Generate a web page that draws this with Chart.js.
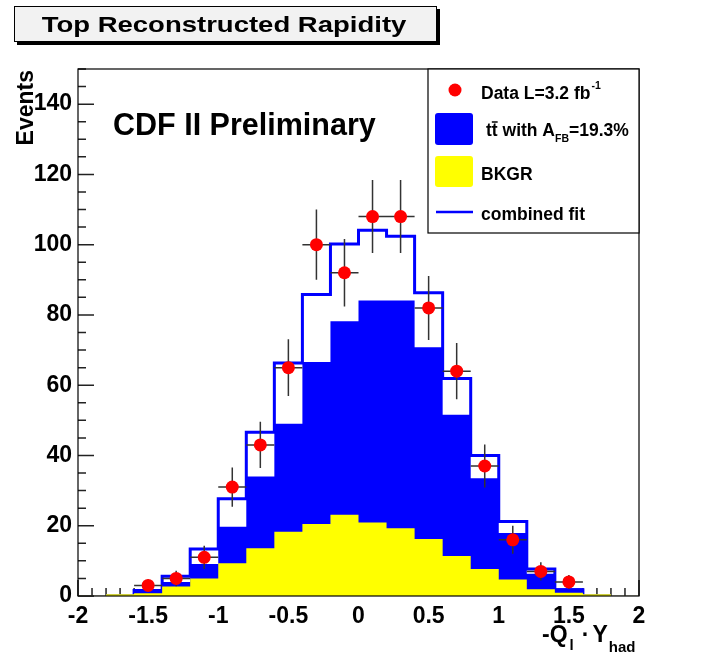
<!DOCTYPE html>
<html lang="en">
<head>
  <meta charset="UTF-8">
  <title>Top Reconstructed Rapidity</title>
  <script src="https://cdn.jsdelivr.net/npm/chart.js"></script>
  <style>
    body { margin: 0; background: #fff; }
  </style>
</head>
<body>
  <canvas id="rapidity" width="705" height="658"></canvas>
  <script>
    // bin centres of -Q_l * Y_had (bin width 0.2)
    const binCenters = [-1.9, -1.7, -1.5, -1.3, -1.1, -0.9, -0.7, -0.5, -0.3, -0.1,
                         0.1,  0.3,  0.5,  0.7,  0.9,  1.1,  1.3,  1.5,  1.7,  1.9];
    const binWidth = 0.2;

    // background (yellow)
    const bkgr = [0.1, 0.5, 0.8, 2.7, 5.0, 9.3, 13.6, 18.3, 20.5, 23.1,
                  20.9, 19.3, 16.2, 11.4, 7.7, 4.7, 1.9, 0.9, 0.5, 0.1];
    // ttbar with A_FB=19.3%, stacked on bkgr (blue fill)
    const ttbarStack = [0.1, 0.5, 1.2, 4.0, 9.1, 19.7, 34.0, 49.0, 66.6, 78.2,
                        84.1, 84.1, 70.8, 51.6, 33.5, 17.9, 6.3, 2.2, 0.5, 0.1];
    // combined fit (blue outline)
    const combinedFit = [null, null, 1.6, 5.6, 13.4, 27.7, 46.6, 66.3, 85.8, 100.2,
                         104.1, 102.4, 86.3, 61.9, 40.0, 21.2, 7.7, 1.8, null, null];
    // data points and their errors
    const dataEvents = [null, null, 3, 5, 11, 31, 43, 65, 100, 92,
                        108, 108, 82, 64, 37, 16, 7, 4, null, null];
    const dataErrors = [null, null, 1.7, 2.2, 3.3, 5.6, 6.6, 8.1, 10, 9.6,
                        10.4, 10.4, 9.1, 8, 6.1, 4, 2.6, 2, null, null];

    const xTicks = [-2, -1.5, -1, -0.5, 0, 0.5, 1, 1.5, 2];
    const yTicks = [0, 20, 40, 60, 80, 100, 120, 140];

    const FONT = "'Liberation Sans', Arial, sans-serif";
    Chart.defaults.font.family = FONT;

    // step outline through bin edges (stepped: 'after' -> vertical first)
    function stepPoints(vals) {
      const pts = [];
      vals.forEach((v, i) => {
        if (v === null) return;
        const lo = binCenters[i] - binWidth / 2;
        const hi = binCenters[i] + binWidth / 2;
        if (!pts.length) pts.push({x: lo, y: 0});
        pts.push({x: hi, y: v});
      });
      pts.push({x: pts[pts.length - 1].x, y: 0});
      return pts;
    }

    const points = [];
    dataEvents.forEach((v, i) => { if (v !== null) points.push({x: binCenters[i], y: v, e: dataErrors[i]}); });

    const rootStyle = {
      id: 'rootStyle',
      beforeDatasetsDraw(chart) {
        // inward ticks, drawn below the histograms
        const {ctx, chartArea: a, scales: {x, y}} = chart;
        ctx.save();
        ctx.strokeStyle = '#222';
        ctx.lineWidth = 1.5;
        ctx.beginPath();
        for (let k = 0; k <= 30; k++) {
          const py = y.getPixelForValue(k * 5);
          const len = k % 4 === 0 ? 16 : 8;
          ctx.moveTo(a.left, py); ctx.lineTo(a.left + len, py);
        }
        for (let k = 0; k <= 40; k++) {
          const px = x.getPixelForValue(-2 + k * 0.1);
          const len = k % 5 === 0 ? 16 : 8;
          ctx.moveTo(px, a.bottom); ctx.lineTo(px, a.bottom - len);
        }
        ctx.stroke();
        ctx.restore();
      },
      beforeDatasetDraw(chart, args) {
        if (args.index !== 0) return;
        const {ctx, scales: {x, y}} = chart;
        ctx.save();
        ctx.strokeStyle = '#333';
        ctx.lineWidth = 1.5;
        ctx.beginPath();
        points.forEach(p => {
          const px = x.getPixelForValue(p.x), py = y.getPixelForValue(p.y);
          ctx.moveTo(px, y.getPixelForValue(p.y - p.e));
          ctx.lineTo(px, y.getPixelForValue(p.y + p.e));
          ctx.moveTo(x.getPixelForValue(p.x - binWidth / 2), py);
          ctx.lineTo(x.getPixelForValue(p.x + binWidth / 2), py);
        });
        ctx.stroke();
        ctx.restore();
      },
      afterDatasetsDraw(chart) {
        const {ctx, chartArea: a} = chart;
        ctx.save();
        ctx.strokeStyle = '#000';
        ctx.lineWidth = 1.2;
        ctx.strokeRect(a.left, a.top, a.right - a.left, a.bottom - a.top);
        ctx.fillStyle = '#000';
        ctx.font = 'bold 30.5px ' + FONT;
        ctx.textAlign = 'left';
        ctx.fillText('CDF II Preliminary', 113, 135);
        ctx.restore();
      },
      afterDraw(chart) {
        const {ctx, chartArea: a} = chart;
        ctx.save();

        // title box with shadow
        ctx.fillStyle = '#000';
        ctx.fillRect(17, 9, 423, 36);
        ctx.fillStyle = '#f2f2f2';
        ctx.fillRect(14, 6, 423, 36);
        ctx.strokeStyle = '#000';
        ctx.lineWidth = 1;
        ctx.strokeRect(14.5, 6.5, 422, 35);
        ctx.save();
        ctx.translate(224, 32);
        ctx.scale(1.25, 1);
        ctx.fillStyle = '#000';
        ctx.font = 'bold 22px ' + FONT;
        ctx.textAlign = 'center';
        ctx.fillText('Top Reconstructed Rapidity', 0, 0);
        ctx.restore();

        // y title
        ctx.save();
        ctx.translate(33, 70);
        ctx.rotate(-Math.PI / 2);
        ctx.fillStyle = '#000';
        ctx.font = 'bold 23px ' + FONT;
        ctx.textAlign = 'right';
        ctx.fillText('Events', 0, 0);
        ctx.restore();

        // x title: -Q_l . Y_had
        ctx.fillStyle = '#000';
        ctx.textAlign = 'left';
        let cx = 542;
        const seg = (txt, size, base) => {
          ctx.font = 'bold ' + size + 'px ' + FONT;
          ctx.fillText(txt, cx, base);
          cx += ctx.measureText(txt).width;
        };
        seg('-Q', 23, 641.5);
        cx += 2;
        seg('l', 15, 650);
        cx += 8;
        seg('\u00b7', 23, 641.5);
        cx += 3;
        seg('Y', 23, 641.5);
        cx += 1;
        seg('had', 15, 652);

        // legend
        ctx.fillStyle = '#fff';
        ctx.fillRect(428, a.top, a.right - 428, 164);
        ctx.strokeStyle = '#000';
        ctx.lineWidth = 1.2;
        ctx.strokeRect(428, a.top, a.right - 428, 164);

        ctx.fillStyle = '#ff0000';
        ctx.beginPath();
        ctx.arc(455, 90, 6.5, 0, Math.PI * 2);
        ctx.fill();
        ctx.fillStyle = '#0000ff';
        ctx.beginPath();
        ctx.roundRect(435, 113, 38, 32, 3);
        ctx.fill();
        ctx.fillStyle = '#ffff00';
        ctx.beginPath();
        ctx.roundRect(435, 156, 38, 31, 3);
        ctx.fill();
        ctx.strokeStyle = '#0000ff';
        ctx.lineWidth = 2.5;
        ctx.beginPath();
        ctx.moveTo(436, 212); ctx.lineTo(473, 212);
        ctx.stroke();

        ctx.fillStyle = '#000';
        cx = 481;
        seg('Data L=3.2 fb', 17.5, 99);
        cx += 1;
        seg('-1', 10.5, 89);

        cx = 486;
        seg('t', 17.5, 136);
        const tx = cx;
        seg('t', 17.5, 136);
        ctx.strokeStyle = '#000';
        ctx.lineWidth = 1.5;
        ctx.beginPath();
        ctx.moveTo(tx, 122); ctx.lineTo(cx, 122);
        ctx.stroke();
        seg(' with A', 17.5, 136);
        seg('FB', 10.5, 142);
        seg('=19.3%', 17.5, 136);

        cx = 481;
        seg('BKGR', 17.5, 180);
        cx = 481;
        seg('combined fit', 17.5, 220);

        ctx.restore();
      }
    };

    new Chart(document.getElementById('rapidity'), {
      type: 'scatter',
      data: {
        datasets: [
          {
            label: 'Data L=3.2 fb-1',
            data: points,
            pointRadius: 6.5,
            pointBackgroundColor: '#ff0000',
            pointBorderWidth: 0,
            showLine: false
          },
          {
            label: 'BKGR',
            data: stepPoints(bkgr),
            showLine: true,
            stepped: 'after',
            pointRadius: 0,
            borderWidth: 0,
            borderColor: '#ffff00',
            backgroundColor: '#ffff00',
            fill: 'origin'
          },
          {
            label: 'combined fit',
            data: stepPoints(combinedFit),
            showLine: true,
            stepped: 'after',
            pointRadius: 0,
            borderWidth: 3,
            borderColor: '#0000ff',
            fill: false
          },
          {
            label: 'tt with A_FB=19.3%',
            data: stepPoints(ttbarStack),
            showLine: true,
            stepped: 'after',
            pointRadius: 0,
            borderWidth: 0,
            borderColor: '#0000ff',
            backgroundColor: '#0000ff',
            fill: 'origin'
          }
        ]
      },
      options: {
        responsive: false,
        animation: false,
        layout: { padding: { top: 69, right: 66, left: 0, bottom: 0 } },
        plugins: {
          legend: { display: false },
          tooltip: { enabled: false }
        },
        scales: {
          x: {
            type: 'linear',
            min: -2,
            max: 2,
            afterFit: s => { s.height = 62; },
            afterBuildTicks: s => { s.ticks = xTicks.map(v => ({value: v})); },
            grid: { display: false, drawTicks: false },
            border: { display: false },
            ticks: {
              padding: 7,
              color: '#000',
              font: { size: 23, weight: 'bold' },
              maxRotation: 0,
              callback: v => String(v)
            }
          },
          y: {
            min: 0,
            max: 150,
            afterFit: s => { s.width = 78; },
            afterBuildTicks: s => { s.ticks = yTicks.map(v => ({value: v})); },
            grid: { display: false, drawTicks: false },
            border: { display: false },
            ticks: {
              padding: 6,
              color: '#000',
              font: { size: 23, weight: 'bold' },
              callback: v => String(v)
            }
          }
        }
      },
      plugins: [rootStyle]
    });
  </script>
</body>
</html>
